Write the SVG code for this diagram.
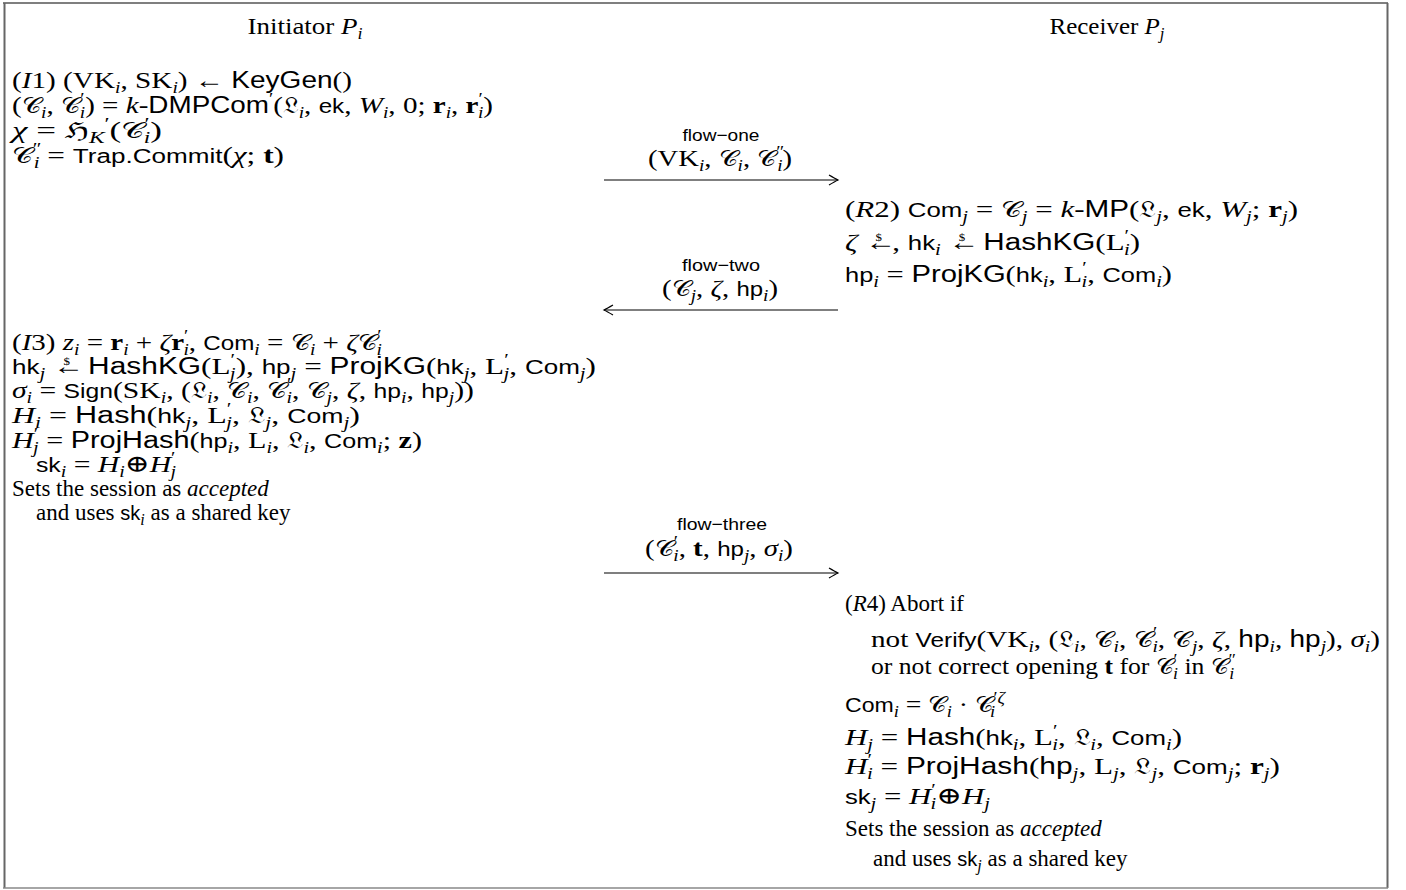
<svg xmlns="http://www.w3.org/2000/svg" width="1406" height="890" viewBox="0 0 1406 890">
<defs>
<style>
text{font-family:"Liberation Serif","DejaVu Serif",serif;font-size:24px;fill:#000}
text.tx{font-size:23px}
.it{font-style:italic}
.bf{font-weight:bold}
.sf{font-family:"Liberation Sans","DejaVu Sans",sans-serif;font-size:20px}
.SF{font-family:"Liberation Sans","DejaVu Sans",sans-serif;font-size:23px}
.sb{font-size:16px;baseline-shift:-5px}
.sp{font-size:16px;baseline-shift:9px}
.cal{font-family:"DejaVu Serif","DejaVu Sans",serif;font-size:22px}
.fk{font-family:"DejaVu Serif","DejaVu Sans",serif;font-size:22px}
text.lbl{font-family:"Liberation Sans","DejaVu Sans",sans-serif;font-size:17px}
.dol{font-size:10px;baseline-shift:9px}
.arr{stroke:#000;stroke-width:1.2;fill:none}
</style>
<marker id="ah" markerWidth="14" markerHeight="14" refX="0" refY="0" viewBox="-12 -7 14 14" orient="auto" markerUnits="userSpaceOnUse">
<path d="M-9,-5 Q-3,-1.5 0,0 Q-3,1.5 -9,5" fill="none" stroke="#000" stroke-width="1.2"/>
</marker>
</defs>
<rect x="0" y="0" width="1406" height="890" fill="#fff"/>
<g id="frame">
<line x1="3" y1="3" x2="1388" y2="3" stroke="#000" stroke-width="1.2"/>
<line x1="4.5" y1="3" x2="4.5" y2="888" stroke="#666" stroke-width="2"/>
<line x1="1387.5" y1="3" x2="1387.5" y2="888" stroke="#666" stroke-width="2"/>
<line x1="3" y1="888" x2="1388" y2="888" stroke="#888" stroke-width="1.5"/>
</g>
<g id="initiator-header">
<text x="305" y="34" text-anchor="middle" textLength="115" lengthAdjust="spacingAndGlyphs">Initiator <tspan class="it">P</tspan><tspan class="sb it">i</tspan></text>
</g>
<g id="receiver-header">
<text x="1107" y="34" text-anchor="middle" textLength="115" lengthAdjust="spacingAndGlyphs">Receiver <tspan class="it">P</tspan><tspan class="sb it">j</tspan></text>
</g>
<g id="I1">
<text x="12" y="88" textLength="340" lengthAdjust="spacingAndGlyphs">(<tspan class="it">I</tspan>1) (VK<tspan class="sb it">i</tspan>, SK<tspan class="sb it">i</tspan>) ← <tspan class="SF">KeyGen</tspan>()</text>
<text x="12" y="113" textLength="481" lengthAdjust="spacingAndGlyphs">(<tspan class="cal">𝒞</tspan><tspan class="sb it">i</tspan>, <tspan class="cal">𝒞</tspan><tspan class="sp">′</tspan><tspan class="sb it" dx="-4">i</tspan>) = <tspan class="it">k</tspan>-<tspan class="SF">DMPCom</tspan><tspan class="sp">′</tspan>(<tspan class="fk">𝔏</tspan><tspan class="sb it">i</tspan>, <tspan class="sf">ek</tspan>, <tspan class="it">W</tspan><tspan class="sb it">i</tspan>, 0; <tspan class="bf">r</tspan><tspan class="sb it">i</tspan>, <tspan class="bf">r</tspan><tspan class="sp">′</tspan><tspan class="sb it" dx="-4">i</tspan>)</text>
<text x="12" y="138" textLength="150" lengthAdjust="spacingAndGlyphs"><tspan class="it">χ</tspan> = <tspan class="fk">ℌ</tspan><tspan class="sb it">K</tspan><tspan class="sp">′</tspan>(<tspan class="cal">𝒞</tspan><tspan class="sp">′</tspan><tspan class="sb it" dx="-4">i</tspan>)</text>
<text x="12" y="163" textLength="272" lengthAdjust="spacingAndGlyphs"><tspan class="cal">𝒞</tspan><tspan class="sp">″</tspan><tspan class="sb it" dx="-6">i</tspan> = <tspan class="sf">Trap.Commit</tspan>(<tspan class="it">χ</tspan>; <tspan class="bf">t</tspan>)</text>
</g>
<g id="R2">
<text x="845" y="217" textLength="453" lengthAdjust="spacingAndGlyphs">(<tspan class="it">R</tspan>2) <tspan class="sf">Com</tspan><tspan class="sb it">j</tspan> = <tspan class="cal">𝒞</tspan><tspan class="sb it">j</tspan> = <tspan class="it">k</tspan>-<tspan class="SF">MP</tspan>(<tspan class="fk">𝔏</tspan><tspan class="sb it">j</tspan>, <tspan class="sf">ek</tspan>, <tspan class="it">W</tspan><tspan class="sb it">j</tspan>; <tspan class="bf">r</tspan><tspan class="sb it">j</tspan>)</text>
<text x="845" y="250" textLength="295" lengthAdjust="spacingAndGlyphs"><tspan class="it">ζ</tspan> ←<tspan class="dol" dx="-16">$</tspan><tspan dx="8">, </tspan><tspan class="sf">hk</tspan><tspan class="sb it">i</tspan> ←<tspan class="dol" dx="-16">$</tspan><tspan dx="8"> </tspan><tspan class="SF">HashKG</tspan>(L<tspan class="sp">′</tspan><tspan class="sb it" dx="-4">i</tspan>)</text>
<text x="845" y="282" textLength="327" lengthAdjust="spacingAndGlyphs"><tspan class="sf">hp</tspan><tspan class="sb it">i</tspan> = <tspan class="SF">ProjKG</tspan>(<tspan class="sf">hk</tspan><tspan class="sb it">i</tspan>, L<tspan class="sp">′</tspan><tspan class="sb it" dx="-4">i</tspan>, <tspan class="sf">Com</tspan><tspan class="sb it">i</tspan>)</text>
</g>
<g id="I3">
<text x="12" y="350" textLength="370" lengthAdjust="spacingAndGlyphs">(<tspan class="it">I</tspan>3) <tspan class="it">z</tspan><tspan class="sb it">i</tspan> = <tspan class="bf">r</tspan><tspan class="sb it">i</tspan> + <tspan class="it">ζ</tspan><tspan class="bf">r</tspan><tspan class="sp">′</tspan><tspan class="sb it" dx="-4">i</tspan>, <tspan class="sf">Com</tspan><tspan class="sb it">i</tspan> = <tspan class="cal">𝒞</tspan><tspan class="sb it">i</tspan> + <tspan class="it">ζ</tspan><tspan class="cal">𝒞</tspan><tspan class="sp">′</tspan><tspan class="sb it" dx="-4">i</tspan></text>
<text x="12" y="374" textLength="584" lengthAdjust="spacingAndGlyphs"><tspan class="sf">hk</tspan><tspan class="sb it">j</tspan> ←<tspan class="dol" dx="-16">$</tspan><tspan dx="8"> </tspan><tspan class="SF">HashKG</tspan>(L<tspan class="sp">′</tspan><tspan class="sb it" dx="-4">j</tspan>), <tspan class="sf">hp</tspan><tspan class="sb it">j</tspan> = <tspan class="SF">ProjKG</tspan>(<tspan class="sf">hk</tspan><tspan class="sb it">j</tspan>, L<tspan class="sp">′</tspan><tspan class="sb it" dx="-4">j</tspan>, <tspan class="sf">Com</tspan><tspan class="sb it">j</tspan>)</text>
<text x="12" y="398" textLength="462" lengthAdjust="spacingAndGlyphs"><tspan class="it">σ</tspan><tspan class="sb it">i</tspan> = <tspan class="sf">Sign</tspan>(SK<tspan class="sb it">i</tspan>, (<tspan class="fk">𝔏</tspan><tspan class="sb it">i</tspan>, <tspan class="cal">𝒞</tspan><tspan class="sb it">i</tspan>, <tspan class="cal">𝒞</tspan><tspan class="sp">′</tspan><tspan class="sb it" dx="-4">i</tspan>, <tspan class="cal">𝒞</tspan><tspan class="sb it">j</tspan>, <tspan class="it">ζ</tspan>, <tspan class="sf">hp</tspan><tspan class="sb it">i</tspan>, <tspan class="sf">hp</tspan><tspan class="sb it">j</tspan>))</text>
<text x="12" y="423" textLength="348" lengthAdjust="spacingAndGlyphs"><tspan class="it">H</tspan><tspan class="sb it">i</tspan> = <tspan class="SF">Hash</tspan>(<tspan class="sf">hk</tspan><tspan class="sb it">j</tspan>, L<tspan class="sp">′</tspan><tspan class="sb it" dx="-4">j</tspan>, <tspan class="fk">𝔏</tspan><tspan class="sb it">j</tspan>, <tspan class="sf">Com</tspan><tspan class="sb it">j</tspan>)</text>
<text x="12" y="448" textLength="410" lengthAdjust="spacingAndGlyphs"><tspan class="it">H</tspan><tspan class="sp">′</tspan><tspan class="sb it" dx="-4">j</tspan> = <tspan class="SF">ProjHash</tspan>(<tspan class="sf">hp</tspan><tspan class="sb it">i</tspan>, L<tspan class="sb it">i</tspan>, <tspan class="fk">𝔏</tspan><tspan class="sb it">i</tspan>, <tspan class="sf">Com</tspan><tspan class="sb it">i</tspan>; <tspan class="bf">z</tspan>)</text>
<text x="36" y="472" textLength="140" lengthAdjust="spacingAndGlyphs"><tspan class="sf">sk</tspan><tspan class="sb it">i</tspan> = <tspan class="it">H</tspan><tspan class="sb it">i</tspan>⊕<tspan class="it">H</tspan><tspan class="sp">′</tspan><tspan class="sb it" dx="-4">j</tspan></text>
<text class="tx" x="12" y="496">Sets the session as <tspan class="it">accepted</tspan></text>
<text class="tx" x="36" y="520">and uses <tspan class="sf">sk</tspan><tspan class="sb it">i</tspan> as a shared key</text>
</g>
<g id="R4">
<text class="tx" x="845" y="611">(<tspan class="it">R</tspan>4) Abort if</text>
<text x="871" y="647" textLength="509" lengthAdjust="spacingAndGlyphs">not <tspan class="sf">Verify</tspan>(VK<tspan class="sb it">i</tspan>, (<tspan class="fk">𝔏</tspan><tspan class="sb it">i</tspan>, <tspan class="cal">𝒞</tspan><tspan class="sb it">i</tspan>, <tspan class="cal">𝒞</tspan><tspan class="sp">′</tspan><tspan class="sb it" dx="-4">i</tspan>, <tspan class="cal">𝒞</tspan><tspan class="sb it">j</tspan>, <tspan class="it">ζ</tspan>, <tspan class="SF">hp</tspan><tspan class="sb it">i</tspan>, <tspan class="SF">hp</tspan><tspan class="sb it">j</tspan>), <tspan class="it">σ</tspan><tspan class="sb it">i</tspan>)</text>
<text class="tx" x="871" y="674" textLength="365" lengthAdjust="spacingAndGlyphs">or not correct opening <tspan class="bf">t</tspan> for <tspan class="cal">𝒞</tspan><tspan class="sp">′</tspan><tspan class="sb it" dx="-4">i</tspan> in <tspan class="cal">𝒞</tspan><tspan class="sp">″</tspan><tspan class="sb it" dx="-6">i</tspan></text>
<text x="845" y="712" textLength="160" lengthAdjust="spacingAndGlyphs"><tspan class="sf">Com</tspan><tspan class="sb it">i</tspan> = <tspan class="cal">𝒞</tspan><tspan class="sb it">i</tspan> · <tspan class="cal">𝒞</tspan><tspan class="sp">′<tspan class="it">ζ</tspan></tspan><tspan class="sb it" dx="-13">i</tspan></text>
<text x="845" y="745" textLength="337" lengthAdjust="spacingAndGlyphs"><tspan class="it">H</tspan><tspan class="sb it">j</tspan> = <tspan class="SF">Hash</tspan>(<tspan class="sf">hk</tspan><tspan class="sb it">i</tspan>, L<tspan class="sp">′</tspan><tspan class="sb it" dx="-4">i</tspan>, <tspan class="fk">𝔏</tspan><tspan class="sb it">i</tspan>, <tspan class="sf">Com</tspan><tspan class="sb it">i</tspan>)</text>
<text x="845" y="774" textLength="435" lengthAdjust="spacingAndGlyphs"><tspan class="it">H</tspan><tspan class="sp">′</tspan><tspan class="sb it" dx="-4">i</tspan> = <tspan class="SF">ProjHash</tspan>(<tspan class="SF">hp</tspan><tspan class="sb it">j</tspan>, L<tspan class="sb it">j</tspan>, <tspan class="fk">𝔏</tspan><tspan class="sb it">j</tspan>, <tspan class="sf">Com</tspan><tspan class="sb it">j</tspan>; <tspan class="bf">r</tspan><tspan class="sb it">j</tspan>)</text>
<text x="845" y="804" textLength="145" lengthAdjust="spacingAndGlyphs"><tspan class="sf">sk</tspan><tspan class="sb it">j</tspan> = <tspan class="it">H</tspan><tspan class="sp">′</tspan><tspan class="sb it" dx="-4">i</tspan>⊕<tspan class="it">H</tspan><tspan class="sb it">j</tspan></text>
<text class="tx" x="845" y="836">Sets the session as <tspan class="it">accepted</tspan></text>
<text class="tx" x="873" y="866">and uses <tspan class="sf">sk</tspan><tspan class="sb it">j</tspan> as a shared key</text>
</g>
<g id="connectors">
<g id="flow-one">
<text class="lbl" x="721" y="141" text-anchor="middle" textLength="77" lengthAdjust="spacingAndGlyphs">flow−one</text>
<text x="720" y="166" text-anchor="middle" textLength="144" lengthAdjust="spacingAndGlyphs">(VK<tspan class="sb it">i</tspan>, <tspan class="cal">𝒞</tspan><tspan class="sb it">i</tspan>, <tspan class="cal">𝒞</tspan><tspan class="sp">″</tspan><tspan class="sb it" dx="-6">i</tspan>)</text>
<line class="arr" x1="604" y1="180" x2="838" y2="180" marker-end="url(#ah)"/>
</g>
<g id="flow-two">
<text class="lbl" x="721" y="271" text-anchor="middle" textLength="78" lengthAdjust="spacingAndGlyphs">flow−two</text>
<text x="720" y="296" text-anchor="middle" textLength="116" lengthAdjust="spacingAndGlyphs">(<tspan class="cal">𝒞</tspan><tspan class="sb it">j</tspan>, <tspan class="it">ζ</tspan>, <tspan class="sf">hp</tspan><tspan class="sb it">i</tspan>)</text>
<line class="arr" x1="838" y1="310" x2="604" y2="310" marker-end="url(#ah)"/>
</g>
<g id="flow-three">
<text class="lbl" x="722" y="530" text-anchor="middle" textLength="90" lengthAdjust="spacingAndGlyphs">flow−three</text>
<text x="719" y="556" text-anchor="middle" textLength="148" lengthAdjust="spacingAndGlyphs">(<tspan class="cal">𝒞</tspan><tspan class="sp">′</tspan><tspan class="sb it" dx="-4">i</tspan>, <tspan class="bf">t</tspan>, <tspan class="sf">hp</tspan><tspan class="sb it">j</tspan>, <tspan class="it">σ</tspan><tspan class="sb it">i</tspan>)</text>
<line class="arr" x1="604" y1="573" x2="838" y2="573" marker-end="url(#ah)"/>
</g>
</g>
</svg>
